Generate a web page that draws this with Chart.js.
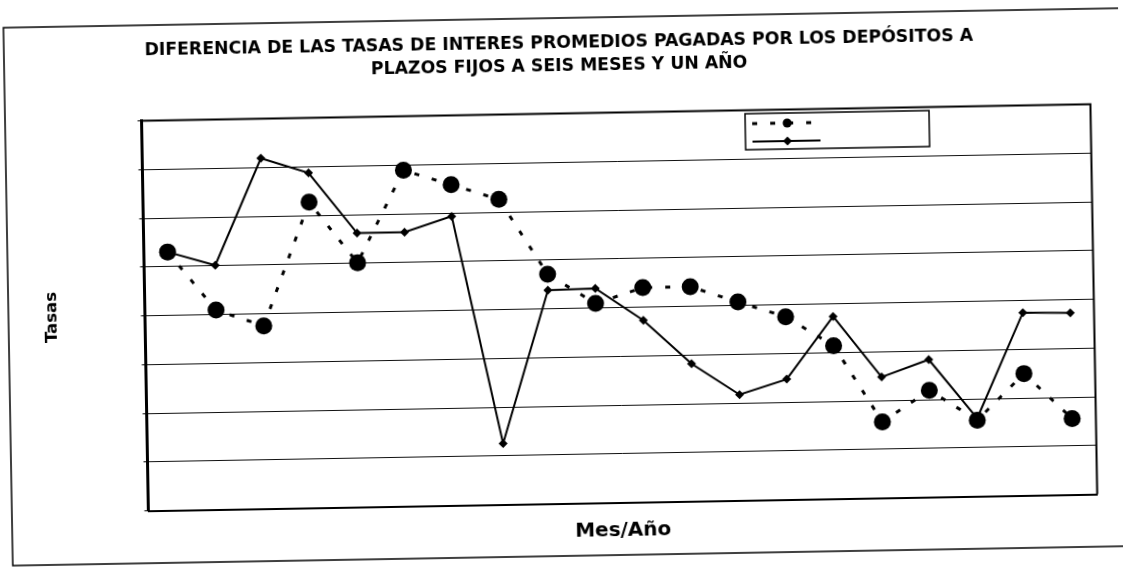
<!DOCTYPE html>
<html>
<head>
<meta charset="utf-8">
<script src="https://cdn.jsdelivr.net/npm/chart.js@4.4.0/dist/chart.umd.min.js"></script>
<style>
  html, body { margin: 0; padding: 0; background: #fff; overflow: hidden; }
  /* the original is a slightly tilted scan */
  #wrap { width: 1123px; height: 572px; transform: rotate(-1deg); transform-origin: 561px 286px; }
</style>
</head>
<body>
<div id="wrap"><canvas id="tasasChart" width="1123" height="572"></canvas></div>
<script>
// ══ DATA ════════════════════════════════════════════════════════
const meses = ['1', '2', '3', '4', '5', '6', '7', '8', '9', '10',
               '11', '12', '13', '14', '15', '16', '17', '18', '19', '20'];
// dashed series, big dots
const tasaSeisMeses = [5.30, 4.09, 3.75, 6.27, 5.01, 6.89, 6.58, 6.26, 4.71, 4.09,
                       4.40, 4.40, 4.07, 3.75, 3.14, 1.56, 2.19, 1.56, 2.50, 1.56];
// solid series, small diamonds
const tasaUnAnio = [5.30, 5.01, 7.19, 6.87, 5.62, 5.62, 5.93, 1.25, 4.38, 4.40,
                    3.73, 2.82, 2.17, 2.47, 3.74, 2.48, 2.82, 1.60, 3.75, 3.73];
const yMin = 0, yMax = 8, yStep = 1;

const tituloLineas = [
  'DIFERENCIA DE LAS TASAS DE INTERES PROMEDIOS PAGADAS POR LOS DEPÓSITOS A',
  'PLAZOS FIJOS A SEIS MESES Y UN AÑO'
];

// ══ PLUGINS ═════════════════════════════════════════════════════
// outer frame, plot box and the (label-less) legend box
const framePlugin = {
  id: 'frame',
  beforeDraw(chart) {
    const ctx = chart.ctx;
    ctx.save();
    ctx.fillStyle = '#fff';
    ctx.fillRect(0, 0, chart.width, chart.height);
    ctx.strokeStyle = '#000';
    ctx.lineWidth = 1.5;
    ctx.strokeRect(8, 18, 1130, 538);
    ctx.restore();
  },
  afterDraw(chart) {
    const ctx = chart.ctx, a = chart.chartArea;
    ctx.save();
    ctx.strokeStyle = '#000';
    ctx.lineWidth = 2;
    ctx.beginPath();
    ctx.moveTo(a.left, a.top); ctx.lineTo(a.right, a.top); ctx.lineTo(a.right, a.bottom);
    ctx.stroke();

    // legend box
    const bx = 748, by = 117, bw = 184, bh = 36;
    ctx.fillStyle = '#fff';
    ctx.fillRect(bx, by, bw, bh);
    ctx.lineWidth = 1.5;
    ctx.strokeRect(bx, by, bw, bh);

    const rows = [127, 145];
    chart.data.datasets.forEach((ds, i) => {
      const y = rows[i];
      ctx.setLineDash(ds.borderDash || []);
      ctx.lineWidth = ds.borderWidth;
      ctx.beginPath();
      ctx.moveTo(755, y); ctx.lineTo(823, y);
      ctx.stroke();
      ctx.setLineDash([]);
      ctx.fillStyle = '#000';
      ctx.beginPath();
      if (ds.pointStyle === 'circle') {
        ctx.arc(790, y, 4.5, 0, Math.PI * 2);
      } else {
        ctx.moveTo(790, y - 4.5); ctx.lineTo(794.5, y); ctx.lineTo(790, y + 4.5); ctx.lineTo(785.5, y);
        ctx.closePath();
      }
      ctx.fill();
    });
    ctx.restore();
  }
};

// ══ CHART ═══════════════════════════════════════════════════════
new Chart(document.getElementById('tasasChart'), {
  type: 'line',
  data: {
    labels: meses,
    datasets: [
      {
        label: 'Seis meses', data: tasaSeisMeses,
        borderColor: '#000', backgroundColor: '#000', borderWidth: 3, borderDash: [5, 13],
        pointStyle: 'circle', pointRadius: 8.5, pointBackgroundColor: '#000', pointBorderWidth: 0,
        tension: 0, fill: false,
      },
      {
        label: 'Un año', data: tasaUnAnio,
        borderColor: '#000', backgroundColor: '#000', borderWidth: 2,
        pointStyle: 'rectRot', pointRadius: 4.5, pointBackgroundColor: '#000', pointBorderWidth: 0,
        tension: 0, fill: false,
      }
    ]
  },
  options: {
    responsive: false,
    animation: false,
    events: [],
    layout: { padding: { left: 32.5, right: 29.5, top: 0, bottom: 0 } },
    plugins: {
      legend: { display: false },
      tooltip: { enabled: false },
      title: {
        display: true, text: tituloLineas, color: '#000',
        font: { family: 'DejaVu Sans', weight: 'bold', size: 17.3, lineHeight: 23 / 17.3 },
        padding: { top: 32.5, bottom: 35 },
      },
    },
    scales: {
      x: {
        offset: true,
        grid: { display: false },
        border: { display: true, color: '#000', width: 2 },
        ticks: { display: false },
        title: {
          display: true, text: 'Mes/Año', color: '#000',
          font: { family: 'DejaVu Sans', weight: 'bold', size: 20, lineHeight: 1.2 },
          padding: { top: 0, bottom: 28 },
        },
        afterFit(s) { s.height = 68.5; },
      },
      y: {
        min: yMin, max: yMax,
        ticks: { display: false, stepSize: yStep },
        grid: { color: '#111', lineWidth: 1, drawTicks: true, tickLength: 4, tickColor: '#000' },
        border: { color: '#000', width: 3 },
        title: {
          display: true, text: 'Tasas', color: '#000',
          font: { family: 'DejaVu Sans', weight: 'bold', size: 16.5, lineHeight: 1.2 },
          padding: { top: 9.1, bottom: 0 },
        },
        afterFit(s) { s.width = 112; },
      }
    }
  },
  plugins: [framePlugin]
});
</script>
</body>
</html>
